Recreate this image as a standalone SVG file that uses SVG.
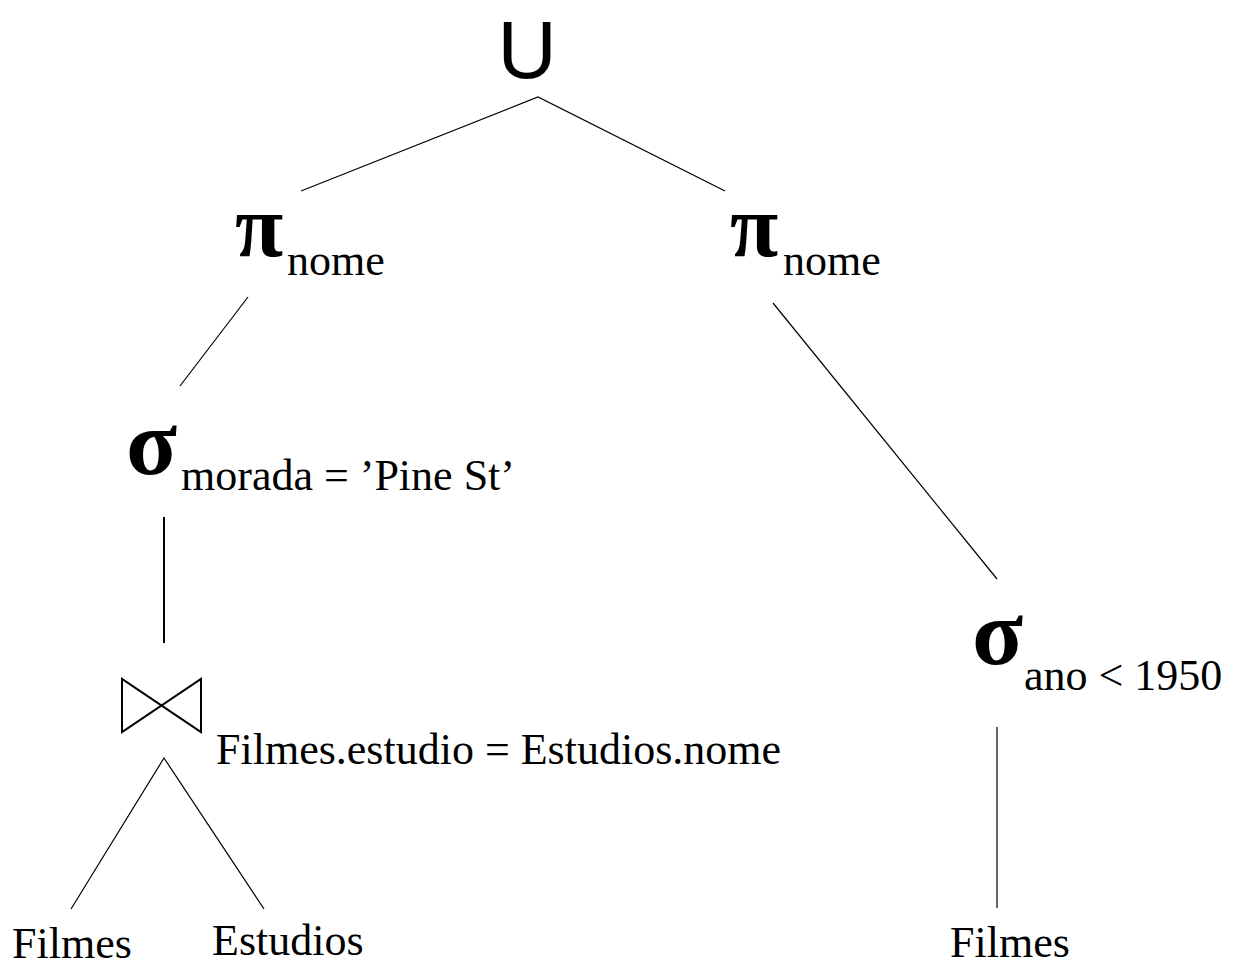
<svg xmlns="http://www.w3.org/2000/svg" width="1234" height="967" viewBox="0 0 1234 967">
<style>
.t{font-family:"Liberation Serif","Times New Roman",serif;font-size:44px;fill:#000}
.g{font-family:"Liberation Serif","Times New Roman",serif;font-size:88px;font-weight:bold;fill:#000}
.s{font-family:"Liberation Serif","Times New Roman",serif;font-size:94px;font-weight:bold;fill:#000}
.u{font-family:"Liberation Sans",Arial,sans-serif;font-size:82px;fill:#000}
.thin{stroke:#000;stroke-width:1.2;fill:none}
.thick{stroke:#000;stroke-width:2;fill:none}
</style>
<rect width="1234" height="967" fill="#fff"/>
<g id="connectors">
<polyline class="thin" points="301,191 538,97 725,191"/>
<line class="thin" x1="248" y1="297" x2="180" y2="386"/>
<line class="thin" x1="773" y1="303" x2="997" y2="579"/>
<line class="thick" x1="164" y1="517" x2="164" y2="643"/>
<polyline class="thin" points="71,909 164,758 264,909"/>
<line class="thin" x1="997" y1="727" x2="997" y2="908"/>
</g>
<g id="union"><text class="u" x="527" y="78" text-anchor="middle">U</text></g>
<g id="proj-left"><text class="g" x="235" y="256">π</text><text class="t" x="287" y="275">nome</text></g>
<g id="proj-right"><text class="g" x="730" y="256">π</text><text class="t" x="783" y="275">nome</text></g>
<g id="select-left"><text class="s" x="126" y="474">σ</text><text class="t" x="181" y="490">morada = ’Pine St’</text></g>
<g id="select-right"><text class="s" x="972" y="664">σ</text><text class="t" x="1024" y="690">ano &lt; 1950</text></g>
<g id="join">
<path class="thick" d="M122,679 L122,732 L201,679 L201,732 Z"/>
<text class="t" x="216" y="764">Filmes.estudio = Estudios.nome</text>
</g>
<g id="filmes-left"><text class="t" x="12" y="958">Filmes</text></g>
<g id="estudios"><text class="t" x="212" y="955">Estudios</text></g>
<g id="filmes-right"><text class="t" x="950" y="957">Filmes</text></g>
</svg>
